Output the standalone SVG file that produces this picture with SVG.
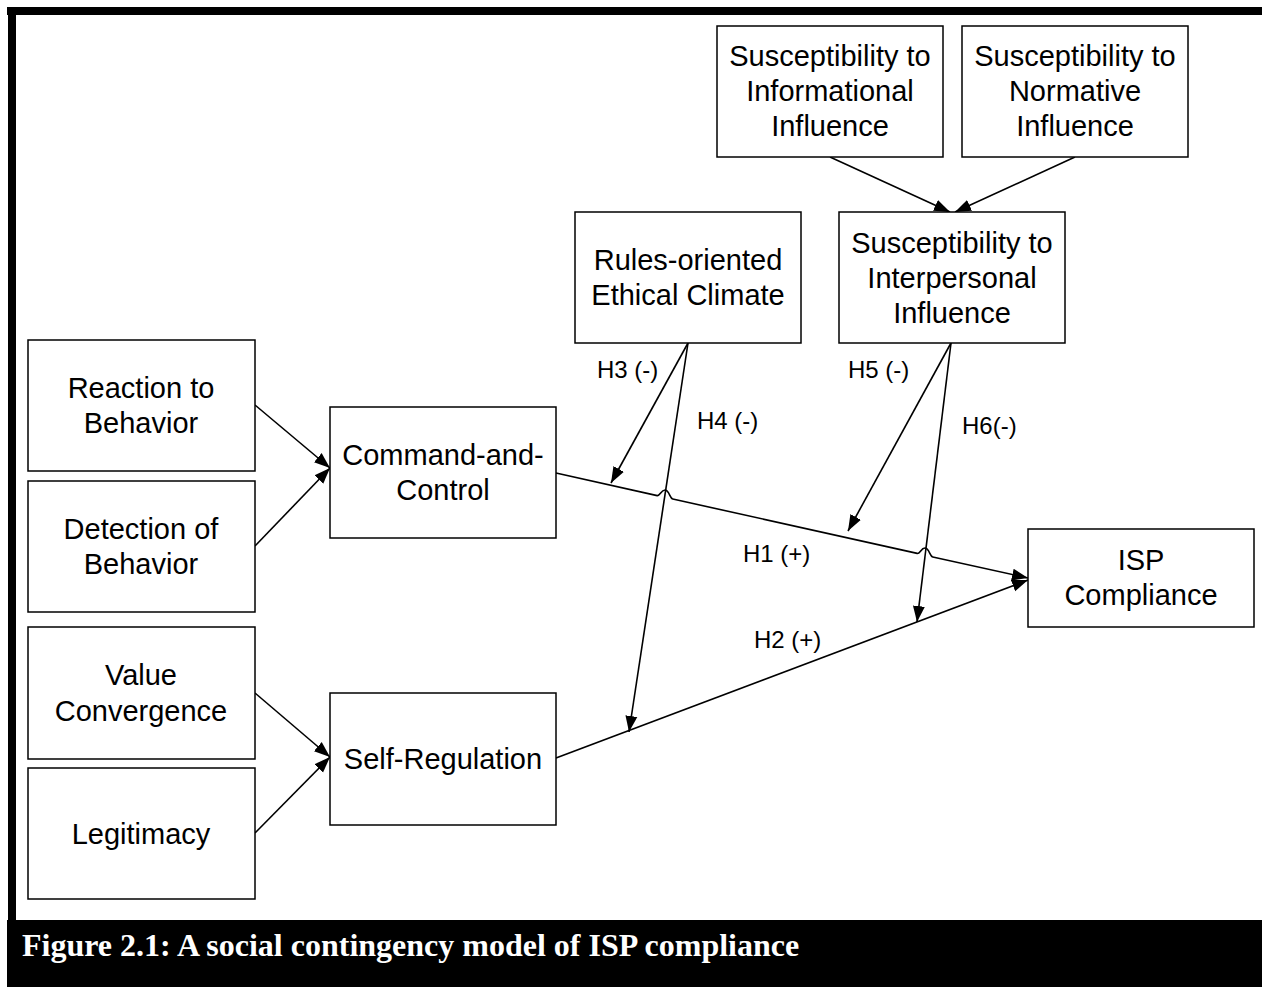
<svg xmlns="http://www.w3.org/2000/svg" width="1262" height="987" viewBox="0 0 1262 987">
  <style>
    .box { fill: #fff; stroke: #000; stroke-width: 1.5; }
    .lbl { font-family: "Liberation Sans", Arial, sans-serif; font-size: 29px; fill: #000; text-anchor: middle; }
    .hyp { font-family: "Liberation Sans", Arial, sans-serif; font-size: 24px; fill: #000; }
    .edge { fill: none; stroke: #000; stroke-width: 1.6; }
    .cap { font-family: "Liberation Serif", "Times New Roman", serif; font-size: 32px; font-weight: bold; fill: #fff; }
  </style>
  <defs>
    <marker id="arrow" markerUnits="userSpaceOnUse" markerWidth="18" markerHeight="14" refX="16" refY="7" orient="auto">
      <path d="M0,1 L16,7 L0,13 Z" fill="#000"/>
    </marker>
  </defs>

  <rect width="1262" height="987" fill="#fff"/>

  <!-- frame -->
  <rect x="7" y="7" width="1255" height="8" fill="#000"/>
  <rect x="8" y="7" width="8" height="913" fill="#000"/>
  <rect x="7" y="920" width="1255" height="67" fill="#000"/>
  <text class="cap" x="22" y="956">Figure 2.1: A social contingency model of ISP compliance</text>

  <!-- connectors -->
  <g id="connectors">
    <line class="edge" x1="255" y1="405" x2="330" y2="468" marker-end="url(#arrow)"/>
    <line class="edge" x1="255" y1="546" x2="330" y2="468" marker-end="url(#arrow)"/>
    <line class="edge" x1="255" y1="693" x2="330" y2="757" marker-end="url(#arrow)"/>
    <line class="edge" x1="255" y1="833" x2="330" y2="757" marker-end="url(#arrow)"/>
    <!-- H1 path with jumps over the H4 and H6 lines -->
    <path class="edge" d="M556,473 L657.2,495.6 C660,496 661,490 665,490 C669,490 670,498.5 672.8,499 L917.2,553.4 C920,554 921,548 925,548 C929,548 930,556.5 932.8,557 L1028,578" marker-end="url(#arrow)"/>
    <line class="edge" x1="556" y1="758" x2="1028" y2="580" marker-end="url(#arrow)"/>
    <line class="edge" x1="688" y1="343" x2="611" y2="483" marker-end="url(#arrow)"/>
    <line class="edge" x1="688" y1="343" x2="629" y2="732" marker-end="url(#arrow)"/>
    <line class="edge" x1="951" y1="343" x2="848" y2="531" marker-end="url(#arrow)"/>
    <line class="edge" x1="951" y1="343" x2="917" y2="622" marker-end="url(#arrow)"/>
    <line class="edge" x1="830" y1="157" x2="950" y2="212" marker-end="url(#arrow)"/>
    <line class="edge" x1="1075" y1="157" x2="955" y2="212" marker-end="url(#arrow)"/>

    <text class="hyp" x="597" y="378">H3 (-)</text>
    <text class="hyp" x="697" y="429">H4 (-)</text>
    <text class="hyp" x="848" y="378">H5 (-)</text>
    <text class="hyp" x="962" y="434">H6(-)</text>
    <text class="hyp" x="743" y="562">H1 (+)</text>
    <text class="hyp" x="754" y="648">H2 (+)</text>
  </g>

  <g id="informational">
    <rect class="box" x="717" y="26" width="226" height="131"/>
    <text class="lbl" x="830" y="66">Susceptibility to</text>
    <text class="lbl" x="830" y="101">Informational</text>
    <text class="lbl" x="830" y="136">Influence</text>
  </g>
  <g id="normative">
    <rect class="box" x="962" y="26" width="226" height="131"/>
    <text class="lbl" x="1075" y="66">Susceptibility to</text>
    <text class="lbl" x="1075" y="101">Normative</text>
    <text class="lbl" x="1075" y="136">Influence</text>
  </g>
  <g id="rules">
    <rect class="box" x="575" y="212" width="226" height="131"/>
    <text class="lbl" x="688" y="270">Rules-oriented</text>
    <text class="lbl" x="688" y="305">Ethical Climate</text>
  </g>
  <g id="interpersonal">
    <rect class="box" x="839" y="212" width="226" height="131"/>
    <text class="lbl" x="952" y="253">Susceptibility to</text>
    <text class="lbl" x="952" y="288">Interpersonal</text>
    <text class="lbl" x="952" y="323">Influence</text>
  </g>
  <g id="reaction">
    <rect class="box" x="28" y="340" width="227" height="131"/>
    <text class="lbl" x="141" y="398">Reaction to</text>
    <text class="lbl" x="141" y="433">Behavior</text>
  </g>
  <g id="detection">
    <rect class="box" x="28" y="481" width="227" height="131"/>
    <text class="lbl" x="141" y="539">Detection of</text>
    <text class="lbl" x="141" y="574">Behavior</text>
  </g>
  <g id="value">
    <rect class="box" x="28" y="627" width="227" height="132"/>
    <text class="lbl" x="141" y="685">Value</text>
    <text class="lbl" x="141" y="721">Convergence</text>
  </g>
  <g id="legitimacy">
    <rect class="box" x="28" y="768" width="227" height="131"/>
    <text class="lbl" x="141" y="844">Legitimacy</text>
  </g>
  <g id="command">
    <rect class="box" x="330" y="407" width="226" height="131"/>
    <text class="lbl" x="443" y="465">Command-and-</text>
    <text class="lbl" x="443" y="500">Control</text>
  </g>
  <g id="selfreg">
    <rect class="box" x="330" y="693" width="226" height="132"/>
    <text class="lbl" x="443" y="769">Self-Regulation</text>
  </g>
  <g id="isp">
    <rect class="box" x="1028" y="529" width="226" height="98"/>
    <text class="lbl" x="1141" y="570">ISP</text>
    <text class="lbl" x="1141" y="605">Compliance</text>
  </g>
</svg>
